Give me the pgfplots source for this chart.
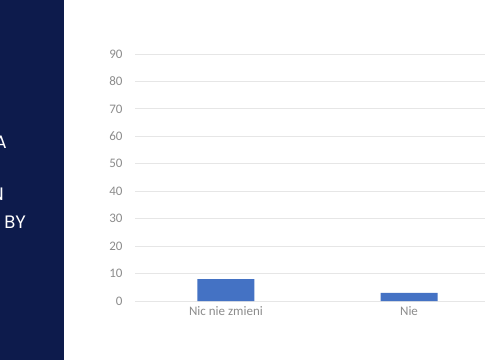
\documentclass[border=0pt]{standalone}
\usepackage{pgfplots}
\pgfplotsset{compat=1.18}
\usepackage{fontspec}
\setmainfont{Carlito}
\newfontfamily\headfont{Poppins}
\definecolor{navy}{HTML}{0D1B4C}
\definecolor{barblue}{HTML}{4472C4}
\definecolor{gridgray}{HTML}{E6E6E6}
\definecolor{ticktext}{HTML}{8C8C8C}
\begin{document}
\begin{tikzpicture}[x=1pt,y=1pt]
\path[use as bounding box] (0,0) rectangle (485,360);
\fill[white] (0,0) rectangle (485,360);
\begin{scope}
\clip (0,0) rectangle (64,360);
\fill[navy] (0,0) rectangle (64,360);
\node[anchor=base east, inner sep=0pt, text=white, font=\headfont\fontsize{18}{20}\selectfont] at (7,212) {A};
\node[anchor=base east, inner sep=0pt, text=white, font=\headfont\fontsize{18}{20}\selectfont] at (4,160) {N};
\node[anchor=base east, inner sep=0pt, text=white, font=\headfont\fontsize{18}{20}\selectfont] at (26,132) {BY};
\end{scope}
\begin{axis}[
  at={(135pt,59pt)}, anchor=south west,
  scale only axis, width=350pt, height=247pt,
  xmin=-0.497, xmax=1.415, ymin=0, ymax=90,
  ytick={0,10,...,90}, xtick={0,1},
  xticklabels={Nic nie zmieni, Nie},
  axis line style={draw=none},
  major tick length=0pt,
  ymajorgrids, grid style={gridgray, line width=0.9pt},
  /pgf/number format/assume math mode=true,
  ticklabel style={font=\fontsize{13}{15}\selectfont, text=ticktext},
  yticklabel style={xshift=-9pt},
  xticklabel style={yshift=-2pt},
  ybar, bar width=57pt,
]
\addplot[fill=barblue, draw=none] coordinates {(0,8) (1,3)};
\end{axis}
\end{tikzpicture}
\end{document}
